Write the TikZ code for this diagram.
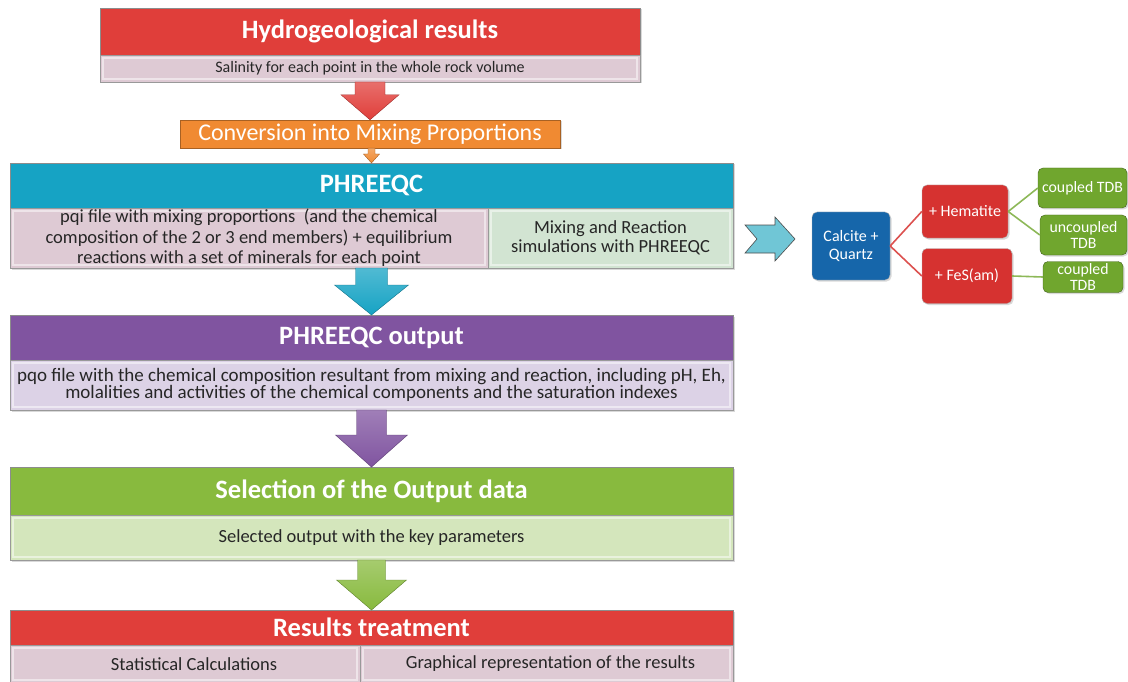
\documentclass[tikz,border=0pt]{standalone}
\usepackage{fontspec}
\setmainfont{Carlito}
\usetikzlibrary{positioning,calc,shadows}
\definecolor{hydrored}{RGB}{224,62,58}
\definecolor{subpink}{RGB}{222,202,212}
\definecolor{convorange}{RGB}{240,138,50}
\definecolor{phqteal}{RGB}{22,163,196}
\definecolor{subgreen}{RGB}{210,228,210}
\definecolor{outpurple}{RGB}{128,84,160}
\definecolor{sublilac}{RGB}{220,210,230}
\definecolor{selgreen}{RGB}{136,186,62}
\definecolor{sublime}{RGB}{212,230,188}
\definecolor{calcblue}{RGB}{22,102,170}
\definecolor{minred}{RGB}{214,50,48}
\definecolor{tdbgreen}{RGB}{112,166,46}
\definecolor{chevblue}{RGB}{112,198,214}
\tikzstyle{header} = [draw=black!45, line width=0.4pt, inner sep=0pt, outer sep=0pt, text=white, font=\fontsize{26.5}{28}\selectfont\bfseries, drop shadow={opacity=0.3, shadow xshift=1.5pt, shadow yshift=-1.5pt}]
\tikzstyle{band} = [draw=black!40, line width=0.4pt, inner sep=0pt, outer sep=0pt, text=black!85, align=center, font=\fontsize{18.5}{20.5}\selectfont, drop shadow={opacity=0.3, shadow xshift=1.5pt, shadow yshift=-1.5pt}, path picture={\draw[white, opacity=0.5, line width=1.2pt] ([xshift=3pt,yshift=-3pt]path picture bounding box.north west) rectangle ([xshift=-3pt,yshift=3pt]path picture bounding box.south east);}]
\tikzstyle{conv} = [fill=convorange, draw=convorange!70!black, line width=0.4pt, inner sep=0pt, text=white, font=\fontsize{24}{26}\selectfont, drop shadow={opacity=0.3, shadow xshift=1.5pt, shadow yshift=-1.5pt}]
\tikzstyle{box} = [rounded corners=5pt, draw=black!30, line width=0.4pt, inner sep=1pt, text=white, align=center, font=\fontsize{16}{18}\selectfont, drop shadow={opacity=0.3, shadow xshift=1.5pt, shadow yshift=-1.5pt}]
\tikzstyle{tdb} = [box, fill=tdbgreen, draw=tdbgreen!60!black, font=\fontsize{15.8}{16}\selectfont]
\tikzstyle{redlink} = [draw=minred!85!white, line width=1.6pt]
\tikzstyle{greenlink} = [draw=tdbgreen!80!white, line width=1.6pt]
\tikzstyle{chevron} = [fill=chevblue, draw=black!70, line width=0.6pt, line join=miter]
% block arrow going down: from, to, shaft half, head half, head length, colour
\newcommand{\flowarrow}[6]{%
  \path[draw=#6!70!black, line width=0.4pt, top color=#6!75!white, bottom color=#6]
    ($(#2 |- #1)+(-#3,0)$) -- ($(#2 |- #1)+(#3,0)$) -- ($(#2)+(#3,-#5)$) -- ($(#2)+(#4,-#5)$)
    -- (#2) -- ($(#2)+(-#4,-#5)$) -- ($(#2)+(-#3,-#5)$) -- cycle;}

\begin{document}
\begin{tikzpicture}[x=1pt,y=-1pt]
\useasboundingbox (0,0) rectangle (1128,682);

% main column
\node[header, fill=hydrored, minimum width=540, minimum height=47] (hydro) at (370,31.5) {Hydrogeological results};
\node[band, fill=subpink, minimum width=540, minimum height=27, below=0pt of hydro, font=\fontsize{16}{18}\selectfont] (salin) {Salinity for each point in the whole rock volume};

\node[conv, minimum width=380, minimum height=28] (conv) at (370,134) {Conversion into Mixing Proportions};

\node[header, fill=phqteal, minimum width=723, minimum height=45] (phq) at (371.5,185.5) {PHREEQC};
\node[band, fill=subpink, minimum width=478, minimum height=60, anchor=north west] (pqi) at (phq.south west)
  {pqi file with mixing proportions~ (and the chemical\\composition of the 2 or 3 end members) + equilibrium\\reactions with a set of minerals for each point};
\node[band, fill=subgreen, minimum width=245, minimum height=60, anchor=north west, font=\fontsize{18.5}{18.5}\selectfont] (mixsim) at (pqi.north east)
  {Mixing and Reaction\\simulations with PHREEQC};

\node[header, fill=outpurple, minimum width=723, minimum height=45] (pqo) at (371.5,337.5) {PHREEQC output};
\node[band, fill=sublilac, minimum width=723, minimum height=50, below=0pt of pqo, font=\fontsize{19}{17}\selectfont] (pqotxt)
  {pqo file with the chemical composition resultant from mixing and reaction, including pH, Eh,\\molalities and activities of the chemical components and the saturation indexes};

\node[header, fill=selgreen, minimum width=723, minimum height=48] (sel) at (371.5,491) {Selection of the Output data};
\node[band, fill=sublime, minimum width=723, minimum height=45, below=0pt of sel] (seltxt) {Selected output with the key parameters};

\node[header, fill=hydrored, minimum width=723, minimum height=35] (res) at (371.5,627.5) {Results treatment};
\node[band, fill=subpink, minimum width=350, minimum height=38, anchor=north west] (stat) at (res.south west) {\hspace{18pt}Statistical Calculations};
\node[band, fill=subpink, minimum width=373, minimum height=38, anchor=north west] (graph) at (stat.north east) {\hspace{8pt}Graphical representation of the results};

% arrows between steps
\flowarrow{salin.south}{conv.north}{15}{29}{25}{hydrored}
\flowarrow{conv.south}{phq.north}{3.5}{8}{9}{convorange}
\flowarrow{pqi.south}{pqo.north}{16}{37}{30}{phqteal}
\flowarrow{pqotxt.south}{sel.north}{15}{36}{32}{outpurple}
\flowarrow{seltxt.south}{res.north}{14}{35}{30}{selgreen}

% mineral sets
\coordinate (chev) at (770,239);
\draw[chevron] ($(chev)+(-25,-14)$) -- ($(chev)+(5,-14)$) -- ($(chev)+(5,-22)$) -- ($(chev)+(25,0)$)
  -- ($(chev)+(5,22)$) -- ($(chev)+(5,14)$) -- ($(chev)+(-25,14)$) -- ($(chev)+(-13,0)$) -- cycle;

\node[box, fill=calcblue, minimum width=78, minimum height=68] (calc) at (851,246) {Calcite +\\Quartz};
\node[box, fill=minred, minimum width=86, minimum height=53] (hem) at (965,211.5) {+ Hematite};
\node[box, fill=minred, minimum width=90, minimum height=55] (fes) at (967,276) {+ FeS(am)};
\node[tdb, minimum width=89, minimum height=40, inner sep=0pt] (tdb1) at (1082.5,188) {coupled TDB};
\node[tdb, minimum width=87, minimum height=40] (tdb2) at (1083.5,235) {uncoupled\\TDB};
\node[tdb, minimum width=80, minimum height=31, inner sep=0pt] (tdb3) at (1083,277) {coupled\\TDB};

\draw[redlink] (calc.east) -- (hem.west);
\draw[redlink] (calc.east) -- (fes.west);
\draw[greenlink] (hem.east) -- (tdb1.west);
\draw[greenlink] (hem.east) -- (tdb2.west);
\draw[greenlink] (fes.east) -- (tdb3.west);
\end{tikzpicture}
\end{document}
